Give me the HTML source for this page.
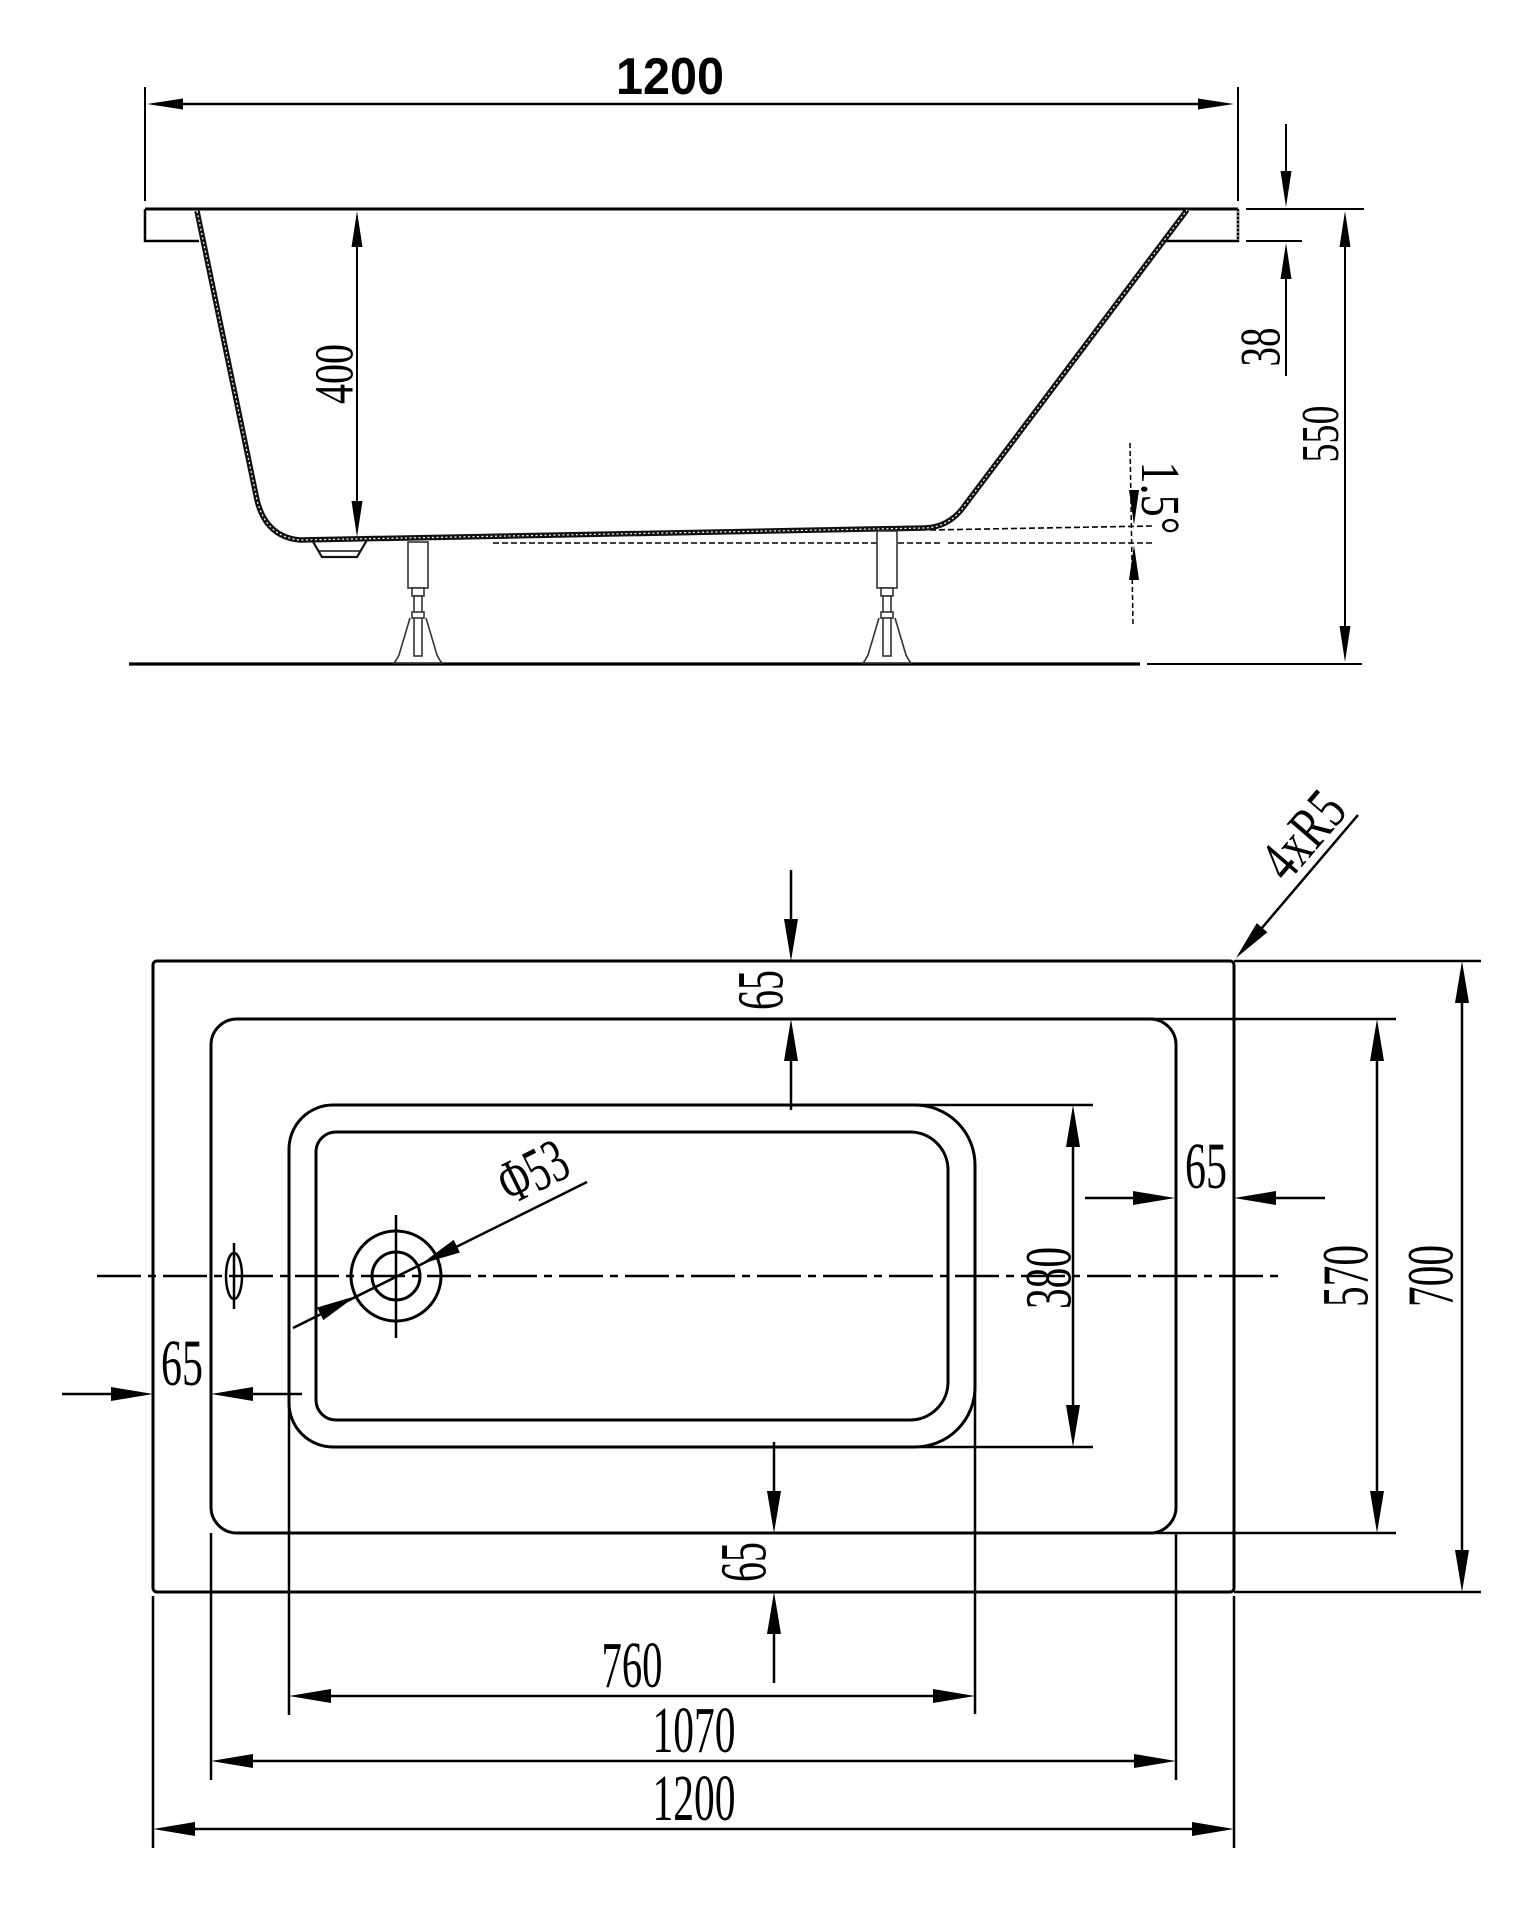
<!DOCTYPE html>
<html>
<head>
<meta charset="utf-8">
<style>
html,body{margin:0;padding:0;background:#fff;}
svg{display:block;}
.s{font-family:"Liberation Serif",serif;fill:#000;}
</style>
</head>
<body>
<svg width="1536" height="1920" viewBox="0 0 1536 1920" xmlns="http://www.w3.org/2000/svg">
<rect width="1536" height="1920" fill="#fff"/>

<!-- ================= SIDE VIEW ================= -->
<g stroke="#000" fill="none" stroke-width="2">
  <!-- 1200 dim -->
  <line x1="145" y1="87" x2="145" y2="201"/>
  <line x1="1238" y1="87" x2="1238" y2="201"/>
  <line x1="160" y1="104" x2="1220" y2="104" stroke-width="2.5"/>
  <!-- rim line -->
  <line x1="145" y1="209" x2="1238" y2="209" stroke-width="3"/>
  <!-- blocks -->
  <path d="M145,209 L145,241 L199,241" stroke-width="2.5"/>
  <path d="M1165,241 L1238,241 L1238,209" stroke-width="2.5"/>
  <!-- 400 dim -->
  <line x1="357" y1="230" x2="357" y2="520"/>
  <!-- 38 dim -->
  <line x1="1286" y1="124" x2="1286" y2="190"/>
  <line x1="1286" y1="260" x2="1286" y2="376"/>
  <line x1="1246" y1="209" x2="1364" y2="209"/>
  <line x1="1246" y1="241" x2="1302" y2="241"/>
  <!-- 550 dim -->
  <line x1="1345" y1="230" x2="1345" y2="645"/>
  <!-- ground -->
  <line x1="129" y1="664" x2="1140" y2="664" stroke-width="3.2"/>
  <line x1="1147" y1="664" x2="1362" y2="664" stroke-width="2"/>
  <!-- dashed reference lines -->
  <line x1="493" y1="543" x2="940" y2="543" stroke-width="1.6" stroke-dasharray="6 3"/>
  <line x1="948" y1="543" x2="1152" y2="543" stroke-width="1.6" stroke-dasharray="6 3"/>
  <line x1="930" y1="530" x2="1152" y2="526" stroke-width="1.6" stroke-dasharray="6 3"/>
  <line x1="1130" y1="443" x2="1133" y2="625" stroke-width="1.5" stroke-dasharray="5 3"/>
</g>

<!-- tub body -->
<path d="M197,211 L257,500 Q266,537 300,540 L925,528 Q950,527 965,505 L1187,210" fill="none" stroke="#111" stroke-width="5.5" stroke-linejoin="round"/>
<path d="M197,211 L257,500 Q266,537 300,540 L925,528 Q950,527 965,505 L1187,210" fill="none" stroke="#fff" stroke-width="1.2" stroke-dasharray="2 2.5"/>
<line x1="1238" y1="211" x2="1238" y2="240" stroke="#fff" stroke-width="1" stroke-dasharray="2 2"/>
<!-- drain -->
<g fill="none" stroke="#111" stroke-width="2.2">
  <path d="M312,540 L322,557 L357,557 L367,540"/>
  <line x1="319" y1="551" x2="360" y2="551" stroke-width="1.5"/>
</g>
<!-- legs -->
<g fill="#fff" stroke="#333" stroke-width="1.6">
  <rect x="408" y="542" width="20" height="46"/>
  <rect x="412" y="588" width="12" height="8"/>
  <rect x="414" y="596" width="8" height="60"/>
  <rect x="412" y="612" width="12" height="6"/>
  <path d="M410,618 L399,655 Q396,661 394,663 L442,663 Q440,661 437,655 L426,618" fill="none"/>
  <rect x="877" y="531" width="20" height="57"/>
  <rect x="881" y="588" width="12" height="8"/>
  <rect x="883" y="596" width="8" height="60"/>
  <rect x="881" y="612" width="12" height="6"/>
  <path d="M879,618 L868,655 Q865,661 863,663 L911,663 Q909,661 906,655 L895,618" fill="none"/>
</g>

<!-- side arrows -->
<g fill="#000" stroke="none">
  <polygon points="147,104 183,98.5 183,109.5"/>
  <polygon points="1234,104 1198,98.5 1198,109.5"/>
  <polygon points="357,211 351.5,247 362.5,247"/>
  <polygon points="357,537 351.5,501 362.5,501"/>
  <polygon points="1286,207 1280.5,171 1291.5,171"/>
  <polygon points="1286,243 1280.5,279 1291.5,279"/>
  <polygon points="1345,211 1339.5,247 1350.5,247"/>
  <polygon points="1345,662 1339.5,626 1350.5,626"/>
  <polygon points="1134,525 1129,490 1139,490"/>
  <polygon points="1134,545 1129,580 1139,580"/>
</g>

<!-- side texts -->
<text x="670" y="94" font-family="Liberation Sans, Arial, sans-serif" font-weight="bold" font-size="52" text-anchor="middle" textLength="108" lengthAdjust="spacingAndGlyphs" fill="#000">1200</text>
<text class="s" transform="translate(334,374) rotate(-90)" x="0" y="18.5" font-size="55" text-anchor="middle" textLength="60" lengthAdjust="spacingAndGlyphs">400</text>
<text class="s" transform="translate(1260,347) rotate(-90)" x="0" y="19.5" font-size="57" text-anchor="middle" textLength="39" lengthAdjust="spacingAndGlyphs">38</text>
<text class="s" transform="translate(1320,434) rotate(-90)" x="0" y="18" font-size="53" text-anchor="middle" textLength="57" lengthAdjust="spacingAndGlyphs">550</text>
<text class="s" transform="translate(1161,498) rotate(90)" x="0" y="19" font-size="55" text-anchor="middle" textLength="73" lengthAdjust="spacingAndGlyphs">1.5°</text>

<!-- ================= PLAN VIEW ================= -->
<g fill="none" stroke="#000" stroke-width="3">
  <rect x="153" y="961" width="1081" height="631" rx="4"/>
  <rect x="211" y="1019" width="965" height="514" rx="26"/>
  <path d="M333,1105 L915,1105 A60,60 0 0 1 975,1165 L975,1387 A60,60 0 0 1 915,1447 L333,1447 A44,44 0 0 1 289,1403 L289,1149 A44,44 0 0 1 333,1105 Z"/>
  <path d="M336,1132 L910,1132 A38,38 0 0 1 948,1170 L948,1382 A38,38 0 0 1 910,1420 L336,1420 A20,20 0 0 1 316,1400 L316,1152 A20,20 0 0 1 336,1132 Z"/>
  <!-- drain -->
  <circle cx="396" cy="1276" r="45"/>
  <circle cx="396" cy="1276" r="24"/>
  <line x1="396" y1="1215" x2="396" y2="1338" stroke-width="2.5"/>
  <!-- overflow -->
  <ellipse cx="234" cy="1276" rx="8" ry="23" stroke-width="2.5"/>
  <line x1="234" y1="1243" x2="234" y2="1309" stroke-width="2.5"/>
</g>

<!-- centerline -->
<line x1="97" y1="1276" x2="1280" y2="1276" stroke="#000" stroke-width="2.5" stroke-dasharray="44 7 8 7"/>

<!-- extension & dimension lines -->
<g stroke="#000" stroke-width="2.5" fill="none">
  <line x1="1234" y1="961" x2="1481" y2="961"/>
  <line x1="1234" y1="1592" x2="1481" y2="1592"/>
  <line x1="1150" y1="1019" x2="1396" y2="1019"/>
  <line x1="1150" y1="1533" x2="1396" y2="1533"/>
  <line x1="915" y1="1105" x2="1093" y2="1105"/>
  <line x1="915" y1="1447" x2="1093" y2="1447"/>
  <line x1="153" y1="1596" x2="153" y2="1848"/>
  <line x1="1234" y1="1596" x2="1234" y2="1848"/>
  <line x1="211" y1="1533" x2="211" y2="1780"/>
  <line x1="1176" y1="1533" x2="1176" y2="1780"/>
  <line x1="289" y1="1403" x2="289" y2="1715"/>
  <line x1="975" y1="1387" x2="975" y2="1714"/>

  <!-- top 65 -->
  <line x1="791" y1="870" x2="791" y2="930"/>
  <line x1="791" y1="1050" x2="791" y2="1110"/>
  <!-- right 65 -->
  <line x1="1085" y1="1198" x2="1140" y2="1198"/>
  <line x1="1268" y1="1198" x2="1325" y2="1198"/>
  <!-- left 65 -->
  <line x1="62" y1="1394" x2="120" y2="1394"/>
  <line x1="245" y1="1394" x2="302" y2="1394"/>
  <!-- bottom 65 -->
  <line x1="774" y1="1442" x2="774" y2="1500"/>
  <line x1="774" y1="1625" x2="774" y2="1683"/>
  <!-- 380 -->
  <line x1="1073" y1="1135" x2="1073" y2="1417"/>
  <!-- 570 -->
  <line x1="1377" y1="1050" x2="1377" y2="1502"/>
  <!-- 700 -->
  <line x1="1462" y1="992" x2="1462" y2="1561"/>
  <!-- 760 -->
  <line x1="320" y1="1696" x2="944" y2="1696"/>
  <!-- 1070 -->
  <line x1="242" y1="1761" x2="1145" y2="1761"/>
  <!-- 1200 -->
  <line x1="184" y1="1829" x2="1203" y2="1829"/>
  <!-- phi 53 leader -->
  <line x1="293" y1="1328" x2="587" y2="1182"/>
  <!-- 4xR5 leader -->
  <line x1="1250" y1="942" x2="1358" y2="815"/>
</g>

<!-- plan arrows -->
<g fill="#000" stroke="none">
  <polygon points="791,961 784,919 798,919"/>
  <polygon points="791,1019 784,1061 798,1061"/>
  <polygon points="1175,1198 1133,1191 1133,1205"/>
  <polygon points="1234,1198 1276,1191 1276,1205"/>
  <polygon points="153,1394 111,1387 111,1401"/>
  <polygon points="211,1394 253,1387 253,1401"/>
  <polygon points="774,1533 767,1491 781,1491"/>
  <polygon points="774,1592 767,1634 781,1634"/>
  <polygon points="1073,1105 1066,1147 1080,1147"/>
  <polygon points="1073,1447 1066,1405 1080,1405"/>
  <polygon points="1377,1019 1370,1061 1384,1061"/>
  <polygon points="1377,1533 1370,1491 1384,1491"/>
  <polygon points="1462,961 1455,1003 1469,1003"/>
  <polygon points="1462,1592 1455,1550 1469,1550"/>
  <polygon points="289,1696 331,1689 331,1703"/>
  <polygon points="975,1696 933,1689 933,1703"/>
  <polygon points="211,1761 253,1754 253,1768"/>
  <polygon points="1176,1761 1134,1754 1134,1768"/>
  <polygon points="153,1829 195,1822 195,1836"/>
  <polygon points="1234,1829 1192,1822 1192,1836"/>
  <polygon points="356,1296 323.3,1320.1 317.1,1307.5"/>
  <polygon points="421,1264 459.9,1252.5 453.7,1239.9"/>
  <polygon points="1236,958 1267.4,932.3 1256.8,923.1"/>
</g>

<!-- plan texts -->
<text class="s" transform="translate(760,990) rotate(-90)" x="0" y="22.5" font-size="66" text-anchor="middle" textLength="40" lengthAdjust="spacingAndGlyphs">65</text>
<text class="s" x="1206" y="1188" font-size="66" text-anchor="middle" textLength="42" lengthAdjust="spacingAndGlyphs">65</text>
<text class="s" x="182" y="1385" font-size="66" text-anchor="middle" textLength="42" lengthAdjust="spacingAndGlyphs">65</text>
<text class="s" transform="translate(743,1562) rotate(-90)" x="0" y="22.5" font-size="66" text-anchor="middle" textLength="40" lengthAdjust="spacingAndGlyphs">65</text>
<text class="s" transform="translate(1048,1278) rotate(-90)" x="0" y="22.5" font-size="66" text-anchor="middle" textLength="62" lengthAdjust="spacingAndGlyphs">380</text>
<text class="s" transform="translate(1345,1276) rotate(-90)" x="0" y="22.5" font-size="66" text-anchor="middle" textLength="62" lengthAdjust="spacingAndGlyphs">570</text>
<text class="s" transform="translate(1430,1276) rotate(-90)" x="0" y="22.5" font-size="66" text-anchor="middle" textLength="62" lengthAdjust="spacingAndGlyphs">700</text>
<text class="s" x="632" y="1687" font-size="66" text-anchor="middle" textLength="61" lengthAdjust="spacingAndGlyphs">760</text>
<text class="s" x="694" y="1752" font-size="66" text-anchor="middle" textLength="83" lengthAdjust="spacingAndGlyphs">1070</text>
<text class="s" x="694" y="1820" font-size="66" text-anchor="middle" textLength="83" lengthAdjust="spacingAndGlyphs">1200</text>
<text class="s" transform="translate(542,1190) rotate(-26.4)" x="0" y="0" font-size="62" text-anchor="middle" textLength="70" lengthAdjust="spacingAndGlyphs">Φ53</text>
<text class="s" transform="translate(1318,848) rotate(-49.3)" x="0" y="0" font-size="60" text-anchor="middle" textLength="95" lengthAdjust="spacingAndGlyphs">4xR5</text>

</svg>
</body>
</html>
